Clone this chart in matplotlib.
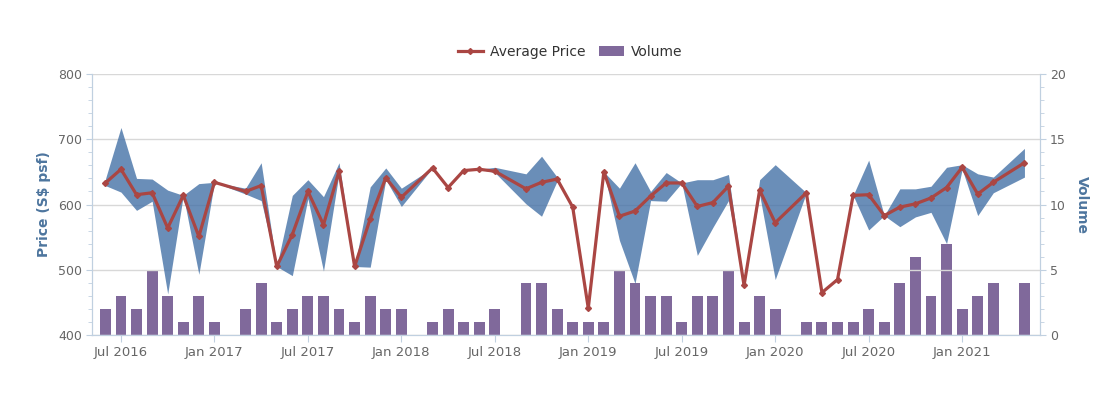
import numpy as np
import matplotlib.pyplot as plt
from matplotlib.lines import Line2D
from matplotlib.patches import Patch
from matplotlib.ticker import MultipleLocator

# monthly data, Jun 2016 .. May 2021 (nan = no transactions that month)
months = ['Jun 2016', 'Jul 2016', 'Aug 2016', 'Sep 2016', 'Oct 2016', 'Nov 2016', 'Dec 2016',
          'Jan 2017', 'Feb 2017', 'Mar 2017', 'Apr 2017', 'May 2017', 'Jun 2017', 'Jul 2017',
          'Aug 2017', 'Sep 2017', 'Oct 2017', 'Nov 2017', 'Dec 2017', 'Jan 2018', 'Feb 2018',
          'Mar 2018', 'Apr 2018', 'May 2018', 'Jun 2018', 'Jul 2018', 'Aug 2018', 'Sep 2018',
          'Oct 2018', 'Nov 2018', 'Dec 2018', 'Jan 2019', 'Feb 2019', 'Mar 2019', 'Apr 2019',
          'May 2019', 'Jun 2019', 'Jul 2019', 'Aug 2019', 'Sep 2019', 'Oct 2019', 'Nov 2019',
          'Dec 2019', 'Jan 2020', 'Feb 2020', 'Mar 2020', 'Apr 2020', 'May 2020', 'Jun 2020',
          'Jul 2020', 'Aug 2020', 'Sep 2020', 'Oct 2020', 'Nov 2020', 'Dec 2020', 'Jan 2021',
          'Feb 2021', 'Mar 2021', 'Apr 2021', 'May 2021']
nan = np.nan
volume = [2, 3, 2, 5, 3, 1, 3, 1, 0, 2, 4, 1, 2, 3, 3, 2, 1, 3, 2, 2, 0, 1, 2, 1, 1, 2, 0, 4, 4, 2,
          1, 1, 1, 5, 4, 3, 3, 1, 3, 3, 5, 1, 3, 2, 0, 1, 1, 1, 1, 2, 1, 4, 6, 3, 7, 2, 3, 4, 0, 4]
avg_price = [633, 654, 615, 618, 564, 614, 551, 634, nan, 620, 629, 505, 554, 620, 569, 651, 505,
             578, 641, 611, nan, 656, 626, 652, 654, 651, nan, 624, 634, 639, 596, 441, 650, 582,
             590, 613, 633, 633, 597, 603, 628, 476, 622, 572, nan, 618, 465, 485, 614, 615, 583,
             596, 601, 610, 626, 657, 616, 634, nan, 664]
low_price = [629, 619, 591, 605, 463, 614, 493, 634, nan, 616, 606, 505, 491, 609, 498, 648, 505,
             504, 638, 597, nan, 656, 625, 652, 654, 649, nan, 601, 582, 636, 596, 441, 650, 545,
             479, 606, 605, 633, 522, 565, 606, 476, 615, 485, nan, 618, 465, 485, 614, 561, 583,
             566, 581, 588, 540, 654, 583, 618, nan, 642]
high_price = [639, 718, 640, 639, 622, 614, 632, 634, nan, 625, 664, 505, 614, 638, 612, 664, 505,
              627, 656, 625, nan, 656, 628, 652, 654, 657, nan, 647, 674, 642, 596, 441, 650, 625,
              664, 620, 649, 633, 638, 638, 646, 476, 638, 661, nan, 618, 465, 485, 614, 668, 583,
              624, 624, 628, 657, 661, 647, 642, nan, 686]
tick_labels = ['Jul 2016', 'Jan 2017', 'Jul 2017', 'Jan 2018', 'Jul 2018', 'Jan 2019',
               'Jul 2019', 'Jan 2020', 'Jul 2020', 'Jan 2021']

x = np.arange(len(months))
avg = np.array(avg_price, dtype=float)
lo = np.array(low_price, dtype=float)
hi = np.array(high_price, dtype=float)
ok = ~np.isnan(avg)

axis_col = '#C0D0E0'
label_col = '#666666'
title_col = '#4d759e'

fig = plt.figure(figsize=(11.07, 3.94), dpi=100)
ax = fig.add_axes([0.0831, 0.1497, 0.8564, 0.6625])
ax2 = ax.twinx()

# volume bars (right axis), behind the price series
ax2.bar(x, volume, width=0.7, color='#80699B', zorder=2)
ax2.set_ylim(0, 20)
ax2.yaxis.set_major_locator(MultipleLocator(5))
ax2.yaxis.set_minor_locator(MultipleLocator(1))

# price range band + average price line (left axis)
ax.fill_between(x[ok], lo[ok], hi[ok], color='#4572A7', alpha=0.8, linewidth=0, zorder=2)
ax.plot(x[ok], avg[ok], color='#AA4643', lw=2.3, marker='D', ms=3.0, zorder=3)
ax.set_ylim(400, 800)
ax.yaxis.set_major_locator(MultipleLocator(100))
ax.yaxis.set_minor_locator(MultipleLocator(20))
ax.grid(axis='y', color='#D8D8D8', lw=1)
ax.set_axisbelow(True)

ax.set_zorder(ax2.get_zorder() + 1)
ax.patch.set_visible(False)

ax.set_xlim(-0.86, 60.0)
ax.set_xticks([months.index(t) for t in tick_labels])
ax.set_xticklabels(tick_labels)

for a in (ax, ax2):
    for s in a.spines.values():
        s.set_color(axis_col)
    a.spines['top'].set_visible(False)
    a.tick_params(which='both', colors=axis_col, labelcolor=label_col, labelsize=9)
    a.tick_params(axis='y', which='major', length=4)
    a.tick_params(axis='y', which='minor', length=3)
ax.tick_params(axis='x', length=5, pad=3, labelsize=9.5)
ax.tick_params(axis='y', which='major', pad=3)
ax2.tick_params(axis='y', which='major', pad=3)

ax.set_ylabel('Price (S$ psf)', color=title_col, fontsize=10, fontweight='bold', labelpad=5)
ax2.set_ylabel('Volume', color=title_col, fontsize=10, fontweight='bold', rotation=270,
               labelpad=17)

handles = [Line2D([], [], color='#AA4643', lw=2.3, marker='D', ms=3.0),
           Patch(facecolor='#80699B', edgecolor='none')]
leg = fig.legend(handles, ['Average Price', 'Volume'], loc='center', ncol=2,
                 bbox_to_anchor=(0.515, 0.868), frameon=False, fontsize=10,
                 handlelength=1.8, columnspacing=1.0, handletextpad=0.5)
for t in leg.get_texts():
    t.set_color('#333333')

fig.savefig('out.png', dpi=100)
